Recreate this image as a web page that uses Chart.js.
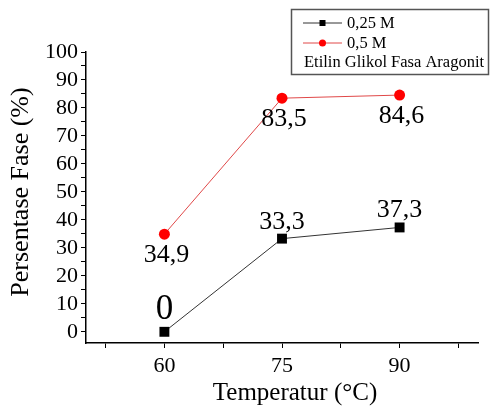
<!DOCTYPE html>
<html lang="id">
<head>
<meta charset="UTF-8">
<title>Persentase Fase Aragonit</title>
<script src="https://cdn.jsdelivr.net/npm/chart.js"></script>
<style>
    html, body { margin: 0; padding: 0; background: #fff; }
    .chart-container { position: relative; width: 490px; height: 408px; }
</style>
</head>
<body>
<div class="chart-container">
    <canvas id="phaseChart" width="490" height="408"></canvas>
</div>
<script>
    const temperatures = [60, 75, 90];
    const series025 = [0, 33.3, 37.3];
    const series05 = [34.9, 83.5, 84.6];
    const seriesNames = ['0,25 M', '0,5 M'];
    const legendNote = 'Etilin Glikol Fasa Aragonit';
    const xTickLabels = [60, 75, 90];
    const xTitle = 'Temperatur (°C)';
    const yTitle = 'Persentase Fase (%)';

    const SERIF = '"Liberation Serif", "Times New Roman", serif';

    function fmt(v) {
        return Number.isInteger(v) ? String(v) : String(v).replace('.', ',');
    }

    const xTicks = [];
    for (let v = 52.5; v <= 100; v += 7.5) xTicks.push(v);
    const yTicks = [];
    for (let v = 0; v <= 100; v += 5) yTicks.push(v);

    // value labels next to each point
    const pointLabels = {
        id: 'pointLabels',
        afterDatasetsDraw(chart) {
            const ctx = chart.ctx;
            ctx.save();
            ctx.fillStyle = '#000';
            ctx.textAlign = 'center';
            ctx.textBaseline = 'alphabetic';
            chart.data.datasets.forEach((ds, i) => {
                chart.getDatasetMeta(i).data.forEach((pt, j) => {
                    const v = ds.data[j].y;
                    const big = v === 0;
                    ctx.font = (big ? 35 : 26) + 'px ' + SERIF;
                    if (ds.labelPos === 'above') {
                        ctx.fillText(fmt(v), pt.x, pt.y - (big ? 13 : 10));
                    } else {
                        ctx.fillText(fmt(v), pt.x + 2, pt.y + 28);
                    }
                });
            });
            ctx.restore();
        }
    };

    // boxed legend top right + axis titles
    const decorations = {
        id: 'decorations',
        afterDraw(chart) {
            const ctx = chart.ctx;
            ctx.save();
            ctx.strokeStyle = '#555';
            ctx.lineWidth = 1.5;
            ctx.strokeRect(291.5, 9.5, 197, 65);

            const rows = [23, 43, 62];
            ctx.font = '16.5px ' + SERIF;
            ctx.textBaseline = 'middle';
            ctx.textAlign = 'left';
            chart.data.datasets.forEach((ds, i) => {
                const y = rows[i];
                ctx.strokeStyle = ds.borderColor;
                ctx.lineWidth = 1;
                ctx.beginPath();
                ctx.moveTo(303, y);
                ctx.lineTo(342, y);
                ctx.stroke();
                ctx.fillStyle = ds.pointBackgroundColor;
                if (ds.pointStyle === 'rect') {
                    ctx.fillRect(319.5, y - 3, 6, 6);
                } else {
                    ctx.beginPath();
                    ctx.arc(322.5, y, 3.5, 0, Math.PI * 2);
                    ctx.fill();
                }
                ctx.fillStyle = '#000';
                ctx.fillText(ds.label, 347, y + 1);
            });
            ctx.fillStyle = '#000';
            ctx.fillText(legendNote, 304, rows[2] + 1);

            ctx.font = '25px ' + SERIF;
            ctx.textAlign = 'center';
            ctx.fillText(xTitle, 295, 393);
            ctx.translate(21, 192);
            ctx.rotate(-Math.PI / 2);
            ctx.font = '26px ' + SERIF;
            ctx.fillText(yTitle, 0, 0);
            ctx.restore();
        }
    };

    new Chart(document.getElementById('phaseChart').getContext('2d'), {
        type: 'line',
        data: {
            datasets: [
                {
                    label: seriesNames[0],
                    data: temperatures.map((t, i) => ({ x: t, y: series025[i] })),
                    borderColor: '#333',
                    borderWidth: 1,
                    pointStyle: 'rect',
                    pointRadius: 7,
                    pointBackgroundColor: '#000',
                    pointBorderColor: '#000',
                    pointBorderWidth: 0,
                    labelPos: 'above'
                },
                {
                    label: seriesNames[1],
                    data: temperatures.map((t, i) => ({ x: t, y: series05[i] })),
                    borderColor: '#e04848',
                    borderWidth: 1,
                    pointStyle: 'circle',
                    pointRadius: 5.5,
                    pointBackgroundColor: '#ff0000',
                    pointBorderColor: '#ff0000',
                    pointBorderWidth: 0,
                    labelPos: 'below'
                }
            ]
        },
        options: {
            responsive: false,
            animation: false,
            devicePixelRatio: 1,
            layout: { padding: { top: 52, right: 12, left: 0, bottom: 0 } },
            plugins: {
                legend: { display: false },
                tooltip: { enabled: false }
            },
            scales: {
                x: {
                    type: 'linear',
                    min: 50,
                    max: 100,
                    afterBuildTicks: s => { s.ticks = xTicks.map(v => ({ value: v })); },
                    afterFit: s => { s.height = 65; },
                    ticks: {
                        autoSkip: false,
                        maxRotation: 0,
                        padding: 5,
                        color: '#000',
                        font: { family: SERIF, size: 22 },
                        callback: v => xTickLabels.includes(v) ? String(v) : ''
                    },
                    grid: { drawOnChartArea: false, tickLength: 5, tickColor: '#000', tickWidth: 1 },
                    border: { color: '#000', width: 1.5 }
                },
                y: {
                    min: -4,
                    max: 100,
                    afterBuildTicks: s => { s.ticks = yTicks.map(v => ({ value: v })); },
                    afterFit: s => { s.width = 86; },
                    ticks: {
                        autoSkip: false,
                        padding: 3,
                        color: '#000',
                        font: { family: SERIF, size: 22 },
                        callback: v => v % 10 === 0 ? String(v) : ''
                    },
                    grid: { drawOnChartArea: false, tickLength: 5, tickColor: '#000', tickWidth: 1 },
                    border: { color: '#000', width: 1.5 }
                }
            }
        },
        plugins: [pointLabels, decorations]
    });
</script>
</body>
</html>
